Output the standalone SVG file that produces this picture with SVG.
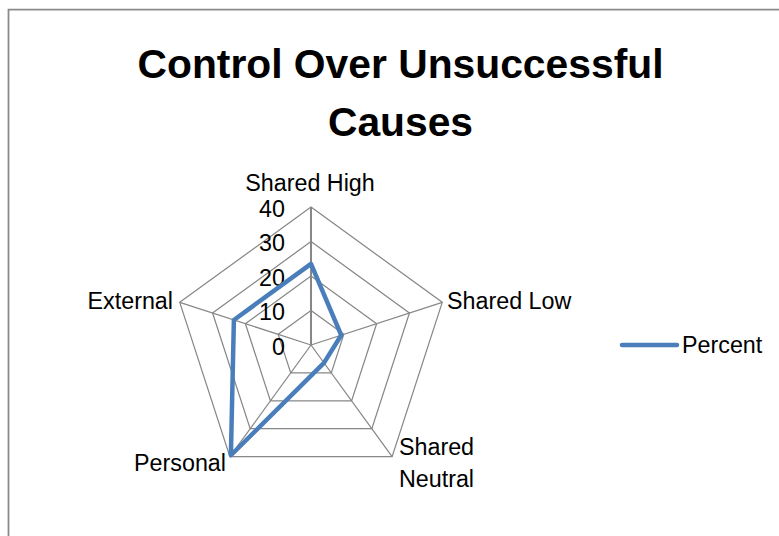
<svg xmlns="http://www.w3.org/2000/svg" width="779" height="536" viewBox="0 0 779 536">
<style>
.frame{fill:none;stroke:#898989;stroke-width:1.75}
.grid{fill:none;stroke:#878787;stroke-width:1.25}
.axis{stroke:#878787;stroke-width:2}
.series{fill:none;stroke:#4a7ebb;stroke-width:4.5;stroke-linejoin:round;stroke-linecap:round}
.title{font-family:"Liberation Sans",Arial,sans-serif;font-weight:bold;font-size:40.8px;fill:#000;text-anchor:middle}
.lbl{font-family:"Liberation Sans",Arial,sans-serif;font-size:23.3px;fill:#000}
.tick{font-family:"Liberation Sans",Arial,sans-serif;font-size:23.3px;fill:#000;text-anchor:end}
</style>
<rect width="779" height="536" fill="#ffffff"/>
<path class="frame" d="M8.5,536 V9.5 H779"/>
<g id="title">
<text class="title" x="400.5" y="78">Control Over Unsuccessful</text>
<text class="title" x="400.5" y="136">Causes</text>
</g>
<g id="grid">
<polygon class="grid" points="311,310.5 343.81,334.34 331.28,372.91 290.72,372.91 278.19,334.34"/>
<polygon class="grid" points="311,276 376.62,323.68 351.56,400.82 270.44,400.82 245.38,323.68"/>
<polygon class="grid" points="311,241.5 409.44,313.02 371.84,428.73 250.16,428.73 212.56,313.02"/>
<polygon class="grid" points="311,207 442.25,302.36 392.12,456.64 229.88,456.64 179.75,302.36"/>
<line class="grid" x1="311" y1="345" x2="442.25" y2="302.36"/>
<line class="grid" x1="311" y1="345" x2="392.12" y2="456.64"/>
<line class="grid" x1="311" y1="345" x2="229.88" y2="456.64"/>
<line class="grid" x1="311" y1="345" x2="179.75" y2="302.36"/>
<line class="axis" x1="311" y1="345" x2="311" y2="207"/>
</g>
<g id="ticks">
<text class="tick" x="285" y="216.5">40</text>
<text class="tick" x="285" y="251">30</text>
<text class="tick" x="285" y="285.5">20</text>
<text class="tick" x="285" y="320">10</text>
<text class="tick" x="285" y="354.5">0</text>
</g>
<g id="connectors">
<polygon class="series" points="311,263.92 341.19,335.19 323.98,362.86 230.9,455.25 233.89,319.95"/>
</g>
<g id="node-shared-high"><text class="lbl" x="310" y="191" text-anchor="middle">Shared High</text></g>
<g id="node-shared-low"><text class="lbl" x="447" y="309">Shared Low</text></g>
<g id="node-shared-neutral">
<text class="lbl" x="436.5" y="455" text-anchor="middle">Shared</text>
<text class="lbl" x="436.5" y="487" text-anchor="middle">Neutral</text>
</g>
<g id="node-personal"><text class="lbl" x="226" y="471" text-anchor="end">Personal</text></g>
<g id="node-external"><text class="lbl" x="173" y="309" text-anchor="end">External</text></g>
<g id="legend">
<line class="series" x1="622" y1="345" x2="677" y2="345"/>
<text class="lbl" x="682" y="353">Percent</text>
</g>
</svg>
